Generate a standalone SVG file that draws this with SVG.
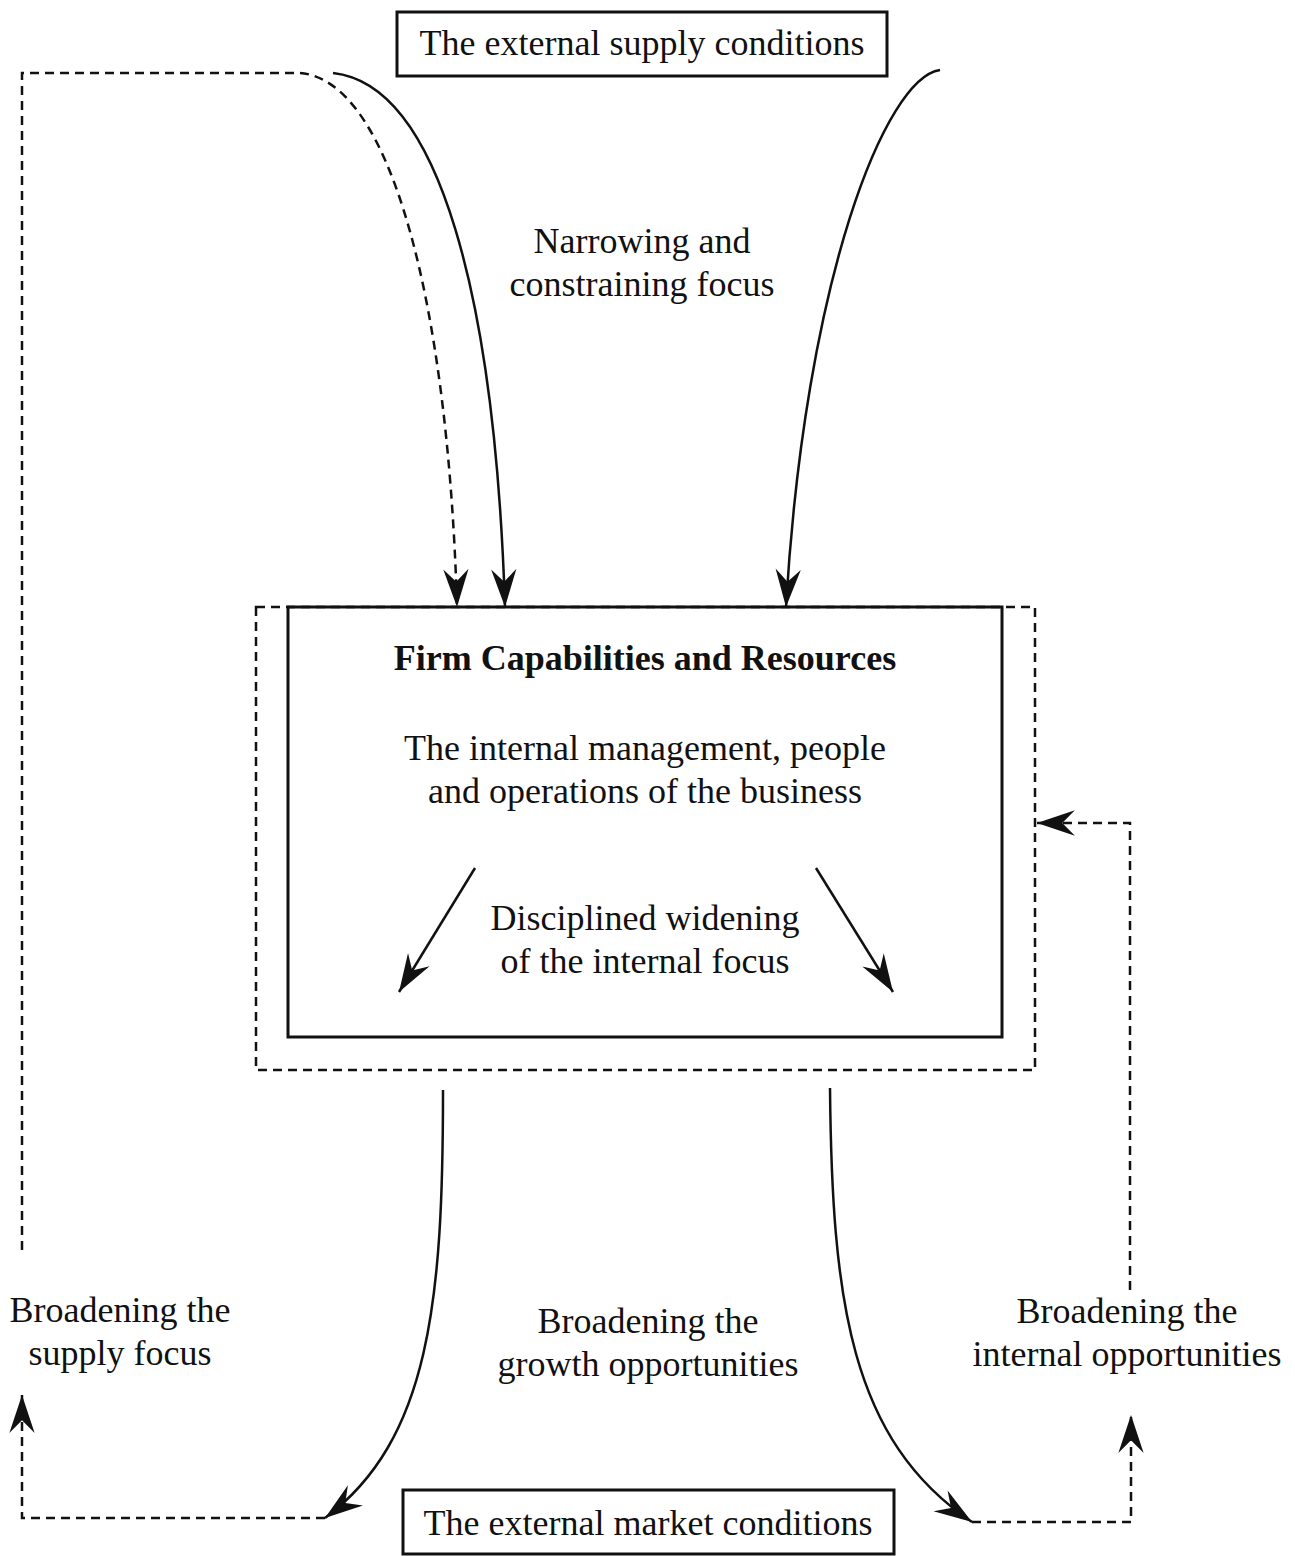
<svg xmlns="http://www.w3.org/2000/svg" width="1295" height="1556" viewBox="0 0 1295 1556">
<defs>
<marker id="ah" markerUnits="userSpaceOnUse" markerWidth="40" markerHeight="30" refX="0" refY="0" viewBox="-36 -13 38 26" orient="auto" overflow="visible">
<path d="M0,0 L-36,-12 L-24,0 L-36,12 Z" fill="#111"/>
</marker>
<style>
text{font-family:"Liberation Serif","Times New Roman",serif;font-size:36px;fill:#111;text-anchor:middle}
.b{font-weight:bold;font-size:36px}
.box{fill:none;stroke:#111;stroke-width:3}
.dbox{fill:none;stroke:#111;stroke-width:2.5;stroke-dasharray:9 6}
.solid{fill:none;stroke:#111;stroke-width:2.5;marker-end:url(#ah)}
.dash{fill:none;stroke:#111;stroke-width:2.5;stroke-dasharray:9 6;marker-end:url(#ah)}
</style>
</defs>
<rect width="1295" height="1556" fill="#fff"/>
<g id="supply">
<rect class="box" x="397" y="12" width="490" height="64"/>
<text x="642" y="55">The external supply conditions</text>
</g>
<g id="firm">
<rect class="dbox" x="256" y="607" width="779" height="463"/>
<rect class="box" x="288" y="607" width="714" height="430"/>
<text class="b" x="645" y="670">Firm Capabilities and Resources</text>
<text x="645" y="760">The internal management, people</text>
<text x="645" y="803">and operations of the business</text>
<text x="645" y="930">Disciplined widening</text>
<text x="645" y="973">of the internal focus</text>
</g>
<g id="market">
<rect class="box" x="403" y="1490" width="491" height="64"/>
<text x="648" y="1535">The external market conditions</text>
</g>
<g id="labels">
<text x="642" y="253">Narrowing and</text>
<text x="642" y="296">constraining focus</text>
<text x="120" y="1322">Broadening the</text>
<text x="120" y="1365">supply focus</text>
<text x="648" y="1333">Broadening the</text>
<text x="648" y="1376">growth opportunities</text>
<text x="1127" y="1323">Broadening the</text>
<text x="1127" y="1366">internal opportunities</text>
</g>
<g id="connectors">
<path class="dash" d="M22,1250 V73 H300 C390,80 448,300 457,607"/>
<path class="solid" d="M333,73 C440,85 495,300 505,607"/>
<path class="solid" d="M940,70 C885,78 805,280 786,607"/>
<path class="solid" d="M475,868 L399,992"/>
<path class="solid" d="M816,868 L893,992"/>
<path class="dash" d="M1130,1290 V823 H1037"/>
<path class="solid" d="M443,1090 C443,1300 430,1440 325,1518"/>
<path class="solid" d="M830,1088 C832,1300 850,1440 972,1522"/>
<path class="dash" d="M325,1518 H22 V1395"/>
<path class="dash" d="M972,1522 H1131 V1415"/>
</g>
</svg>
